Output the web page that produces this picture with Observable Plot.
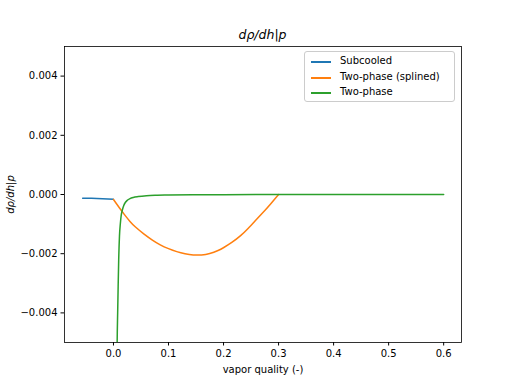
<!DOCTYPE html>
<html>
<head>
<meta charset="utf-8">
<script src="https://cdn.jsdelivr.net/npm/d3@7"></script>
<script src="https://cdn.jsdelivr.net/npm/@observablehq/plot@0.6"></script>
<style>
  html, body { margin: 0; padding: 0; background: #fff; }
  body { width: 512px; height: 384px; position: relative; font-family: "DejaVu Sans", sans-serif; overflow: hidden; }
  #title { height: 40px; position: relative; }
  #title span { position: absolute; left: 64px; width: 397px; text-align: center; top: 29px; font-size: 12.5px; font-style: italic; line-height: 1; }
  #chart svg [aria-label="y-axis label"] text { font-style: italic; }
  #legend { position: absolute; left: 304px; top: 51px; width: 151px; height: 51px; border: 1px solid #cccccc; border-radius: 3px; background: rgba(255,255,255,0.8); font-size: 10px; box-sizing: border-box; }
  #legend .row { position: absolute; left: 0; height: 12px; }
  #legend .sw { position: absolute; left: 6px; top: 5px; width: 20px; height: 2px; }
  #legend .lb { position: absolute; left: 35px; top: -1px; white-space: nowrap; }
</style>
</head>
<body>
<div id="title"><span>dρ/dh|p</span></div>
<div id="chart"></div>
<div id="legend"></div>
<script>
const seriesNames = ["Subcooled", "Two-phase (splined)", "Two-phase"];
const seriesColors = ["#1f77b4", "#ff7f0e", "#2ca02c"];

const subX = [-0.056, -0.04, -0.02, 0.0];
const subY = [-0.000125, -0.00013, -0.00014, -0.00016];

const splX = [0, 0.01, 0.02, 0.03, 0.04, 0.055, 0.07, 0.085, 0.10, 0.115, 0.13, 0.145, 0.16, 0.175, 0.19, 0.2005, 0.215, 0.231, 0.245, 0.261, 0.275, 0.2855, 0.30];
const splY = [-0.00017, -0.00043, -0.00068, -0.00091, -0.00110, -0.00133, -0.00153, -0.00170, -0.00183, -0.00193, -0.00200, -0.00204, -0.00204, -0.00199, -0.00189, -0.00179, -0.00162, -0.00139, -0.00114, -0.00082, -0.00054, -0.00032, 0.0];

const tpX = [0.0060, 0.0067, 0.0076, 0.0085, 0.0095, 0.0109, 0.0125, 0.014, 0.0165, 0.0187, 0.0215, 0.025, 0.03, 0.036, 0.045, 0.06, 0.08, 0.1, 0.15, 0.2, 0.3, 0.45, 0.6];
const tpY = [-0.0068, -0.0050, -0.0040, -0.0031, -0.0022, -0.0014, -0.00098, -0.00071, -0.00050, -0.00037, -0.00027, -0.00020, -0.00014, -0.00010, -0.00007, -0.00004, -0.000025, -0.000017, -0.000008, -0.000005, -0.000002, -0.000001, -0.0000005];

const xTicks = [0.0, 0.1, 0.2, 0.3, 0.4, 0.5, 0.6];
const yTicks = [-0.004, -0.002, 0.0, 0.002, 0.004];
const xLabel = "vapor quality (-)";
const yLabel = "dρ/dh|p";

const toRows = (xs, ys, s) => xs.map((x, i) => ({x, y: ys[i], s}));
const sub = toRows(subX, subY, seriesNames[0]);
const spl = toRows(splX, splY, seriesNames[1]);
const tp = toRows(tpX, tpY, seriesNames[2]);

const chart = Plot.plot({
  width: 512,
  height: 344,
  marginLeft: 64,
  marginRight: 51,
  marginTop: 6,
  marginBottom: 42,
  style: {fontFamily: "DejaVu Sans, sans-serif", fontSize: "10px", background: "white", color: "black", overflow: "visible"},
  x: {domain: [-0.089, 0.6324], ticks: xTicks, tickFormat: d3.format(".1f"), tickSize: 3.5, tickPadding: 3.5, label: xLabel, labelAnchor: "center", labelArrow: "none", labelOffset: 30},
  y: {domain: [-0.005, 0.005], ticks: yTicks, tickFormat: d3.format(".3f"), tickSize: 3.5, tickPadding: 3.5, label: yLabel, labelAnchor: "center", labelArrow: "none", labelOffset: 58},
  marks: [
    Plot.line(sub, {x: "x", y: "y", stroke: seriesColors[0], strokeWidth: 1.5, clip: true}),
    Plot.line(spl, {x: "x", y: "y", stroke: seriesColors[1], strokeWidth: 1.5, curve: "natural", clip: true}),
    Plot.line(tp, {x: "x", y: "y", stroke: seriesColors[2], strokeWidth: 1.5, curve: "monotone-x", clip: true}),
    Plot.frame({stroke: "black", strokeWidth: 0.8})
  ]
});
document.getElementById("chart").appendChild(chart);

const legend = document.getElementById("legend");
seriesNames.forEach((name, i) => {
  const row = document.createElement("div");
  row.className = "row";
  row.style.top = Math.round(4 + i * 15.5) + "px";
  row.innerHTML = `<div class="sw" style="background:${seriesColors[i]}"></div><div class="lb">${name}</div>`;
  legend.appendChild(row);
});
</script>
</body>
</html>
